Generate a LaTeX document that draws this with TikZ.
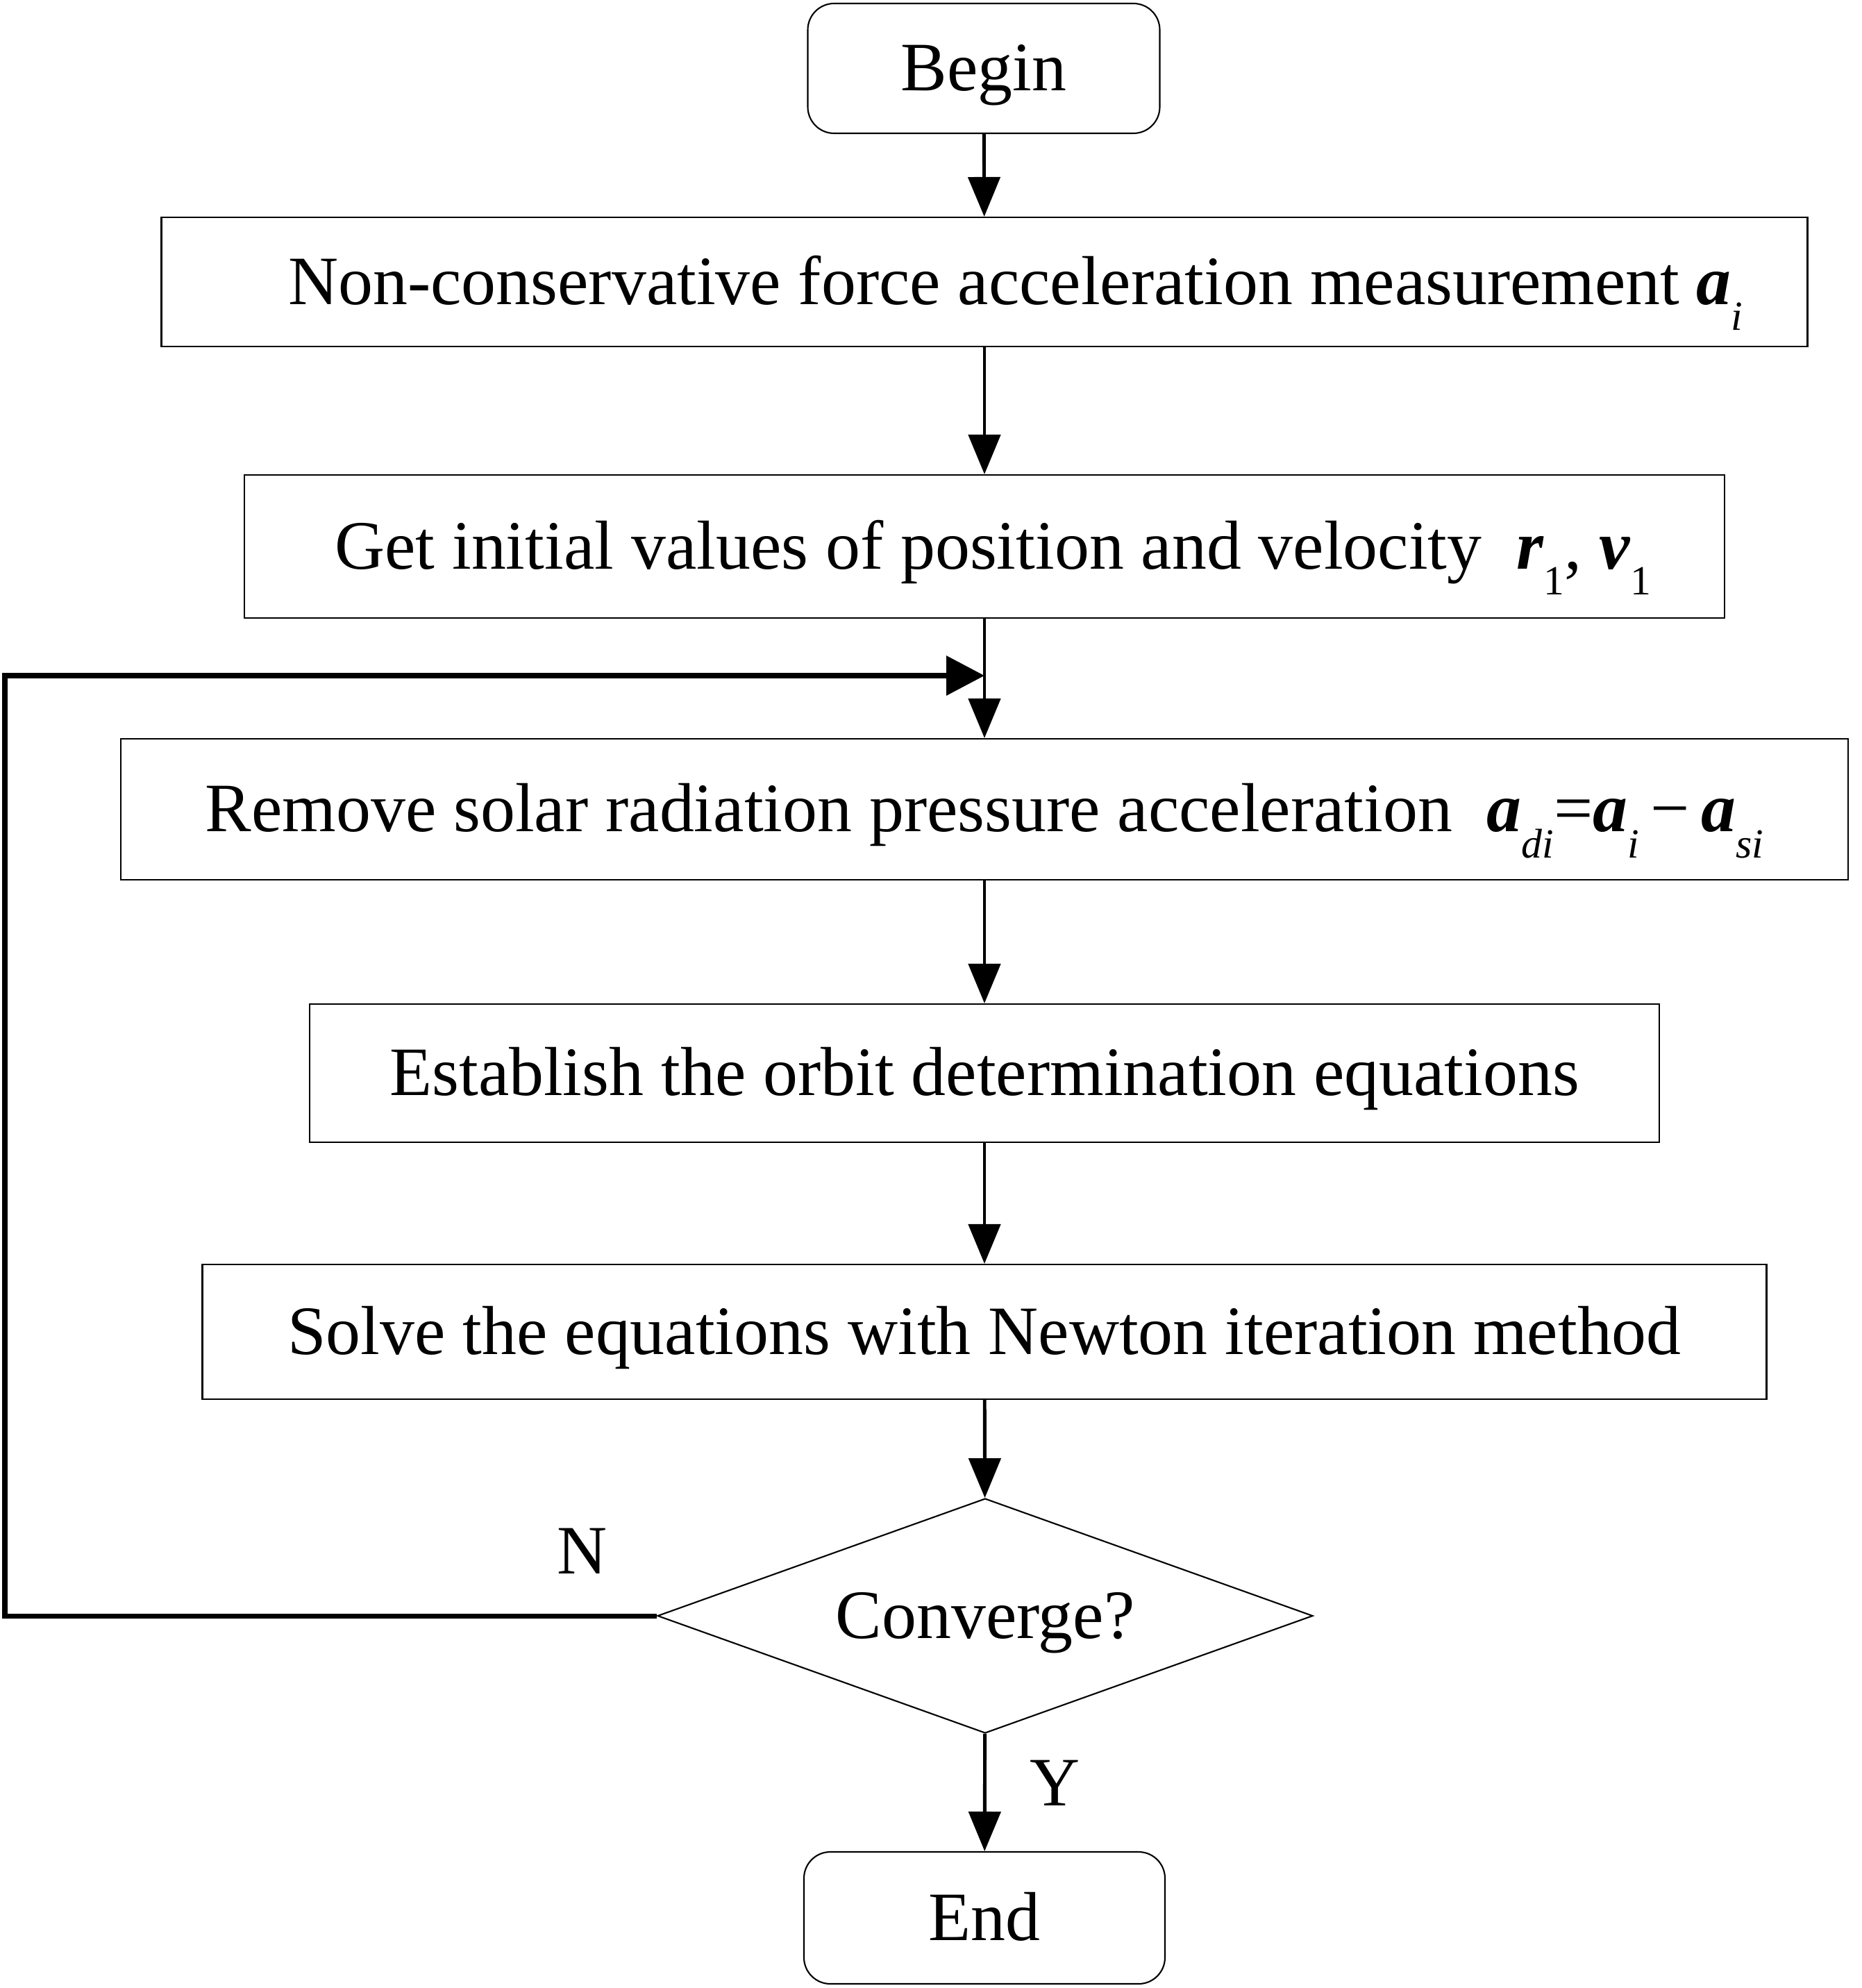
\documentclass[tikz,border=0pt]{standalone}
\usepackage{fontspec}
\setmainfont{Liberation Serif}
\usetikzlibrary{shapes.geometric,arrows.meta}
\newcommand{\bv}[1]{\textbf{\textit{#1}}}
\newcommand{\sbi}[1]{\raisebox{-0.38em}{\fontsize{17}{17}\selectfont\textit{#1}}}
\newcommand{\sbn}[1]{\raisebox{-0.38em}{\fontsize{17}{17}\selectfont #1}}
\tikzset{
  txt/.style={font=\fontsize{28.4}{34}\selectfont, text=black},
  centred/.style={text height=0.64cm, text depth=0cm},
  procbox/.style={txt, centred, draw=black, line width=0.6pt, fill=white, rectangle, inner sep=0pt},
  termbox/.style={procbox, rounded corners=0.38cm},
  decbox/.style={txt, centred, draw=black, line width=0.6pt, diamond, aspect=2.79, inner sep=0pt, minimum width=9.44cm, minimum height=3.38cm},
  flow/.style={line width=1.4pt, -{Triangle[length=0.57cm,width=0.46cm]}},
  loopback/.style={line width=2.0pt, -{Triangle[length=0.55cm,width=0.56cm]}},
}
\begin{document}
\begin{tikzpicture}
\useasboundingbox (0,0) rectangle (26.81,-28.63);
\node[termbox, minimum width=5.07cm, minimum height=1.87cm] (begin) at (14.17,-0.985) {Begin};
\node[procbox, minimum width=23.71cm, minimum height=1.86cm] (b1) at (14.18,-4.06) {\hspace*{0.9cm}Non-conservative force acceleration measurement \bv{a}\sbi{i}};
\node[procbox, minimum width=21.32cm, minimum height=2.06cm] (b2) at (14.18,-7.87) {\hspace*{0.25cm}Get initial values of position and velocity\ \ \bv{r}\sbn{1}, \bv{v}\sbn{1}};
\node[procbox, minimum width=24.88cm, minimum height=2.03cm] (b3) at (14.18,-11.655) {Remove solar radiation pressure acceleration\ \ \bv{a}\sbi{di}=\bv{a}\sbi{i}\,−\,\bv{a}\sbi{si}};
\node[procbox, minimum width=19.44cm, minimum height=1.99cm] (b4) at (14.18,-15.455) {Establish the orbit determination equations};
\node[procbox, minimum width=22.53cm, minimum height=1.94cm] (b5) at (14.18,-19.18) {Solve the equations with Newton iteration method};
\node[decbox] (dec) at (14.19,-23.27) {Converge?};
\node[termbox, minimum width=5.20cm, minimum height=1.90cm] (end) at (14.18,-27.62) {End};
\node[txt] (nlab) at (8.39,-22.34) {N};
\node[txt] (ylab) at (15.20,-25.68) {Y};
\coordinate (lowcorner) at (0.07,-23.27);
\coordinate (topcorner) at (0.07,-9.73);
\coordinate (loopin) at (14.18,-9.73);
\draw[flow] (begin) -- (b1);
\draw[flow] (b1) -- (b2);
\draw[flow] (b2) -- (b3);
\draw[flow] (b3) -- (b4);
\draw[flow] (b4) -- (b5);
\draw[flow] (b5) -- (dec);
\draw[flow] (dec) -- (end);
\draw[loopback] (dec.west) -- (lowcorner) -- (topcorner) -- (loopin);
\end{tikzpicture}
\end{document}
